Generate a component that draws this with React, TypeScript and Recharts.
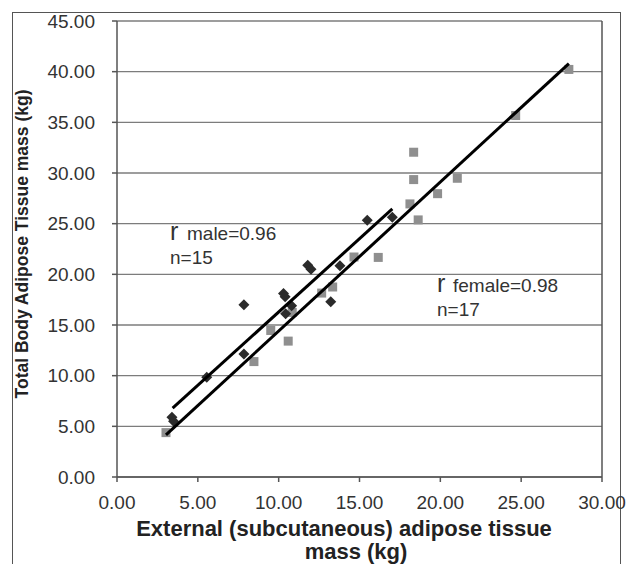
import { ScatterChart, Scatter, XAxis, YAxis, CartesianGrid, ReferenceLine } from 'recharts';

const maleX = [3.4, 3.5, 5.55, 7.85, 7.85, 10.3, 10.4, 10.43, 10.8, 11.8, 12.0, 13.22, 13.79, 15.48, 17.03];
const maleY = [5.9, 5.5, 9.85, 12.15, 17.0, 18.1, 17.8, 16.1, 16.9, 20.9, 20.5, 17.29, 20.85, 25.33, 25.64];

const femaleX = [3.03, 8.47, 9.51, 10.59, 10.84, 12.66, 13.34, 14.66, 16.16, 18.12, 18.35, 18.35, 18.63, 19.83, 21.05, 24.66, 27.95];
const femaleY = [4.38, 11.39, 14.46, 13.41, 16.24, 18.15, 18.75, 21.71, 21.67, 26.95, 29.35, 32.05, 25.37, 27.96, 29.48, 35.67, 40.22];

// fitted lines, end points
const maleFitX = [3.44, 17.03];
const maleFitY = [6.79, 26.45];
const femaleFitX = [3.03, 27.95];
const femaleFitY = [4.15, 40.8];

const xTicks = [0, 5, 10, 15, 20, 25, 30];
const yTicks = [0, 5, 10, 15, 20, 25, 30, 35, 40, 45];

const toPoints = (xs: number[], ys: number[]) => xs.map((x, i) => ({ x, y: ys[i] }));

const maleData = toPoints(maleX, maleY);
const femaleData = toPoints(femaleX, femaleY);
const maleFit = toPoints(maleFitX, maleFitY);
const femaleFit = toPoints(femaleFitX, femaleFitY);

const FONT = '"Liberation Sans", Arial, sans-serif';

const Diamond = (props: any) => {
  const { cx, cy } = props;
  const r = 5.5;
  return <polygon points={`${cx},${cy - r} ${cx + r},${cy} ${cx},${cy + r} ${cx - r},${cy}`} fill="#2b2b2b" />;
};

const Square = (props: any) => {
  const { cx, cy } = props;
  return <rect x={cx - 4.5} y={cy - 4.5} width={9} height={9} fill="#8f8f8f" />;
};

export default function App() {
  return (
    <div style={{ position: 'absolute', left: 0, top: 0, width: 626, height: 564, background: '#fff', overflow: 'hidden' }}>
      <div style={{ position: 'absolute', left: 12, top: 12, width: 607, height: 560, border: '1.5px solid #555' }} />
      <div style={{ position: 'absolute', left: 0, top: 0 }}>
        <ScatterChart width={626} height={564} margin={{ top: 21, right: 24, bottom: 0, left: 0 }}>
          <CartesianGrid vertical={false} stroke="#7c7c7c" strokeWidth={1.3} />
          <XAxis
            type="number"
            dataKey="x"
            domain={[0, 30]}
            ticks={xTicks}
            allowDataOverflow
            height={87}
            tickFormatter={(v: number) => v.toFixed(2)}
            tick={{ fontSize: 19, fill: '#333', fontFamily: FONT }}
            tickSize={5}
            tickMargin={14}
            stroke="#555"
            strokeWidth={1.5}
            label={{
              content: () => (
                <g fontFamily={FONT} fontWeight="bold" fontSize={22} fill="#222">
                  <text x={344} y={536} textAnchor="middle">External (subcutaneous) adipose tissue</text>
                  <text x={356} y={559} textAnchor="middle">mass (kg)</text>
                </g>
              ),
            }}
          />
          <YAxis
            type="number"
            dataKey="y"
            domain={[0, 45]}
            ticks={yTicks}
            allowDataOverflow
            width={117}
            tickFormatter={(v: number) => v.toFixed(2)}
            tick={{ fontSize: 19, fill: '#333', fontFamily: FONT }}
            tickSize={5}
            tickMargin={17}
            stroke="#555"
            strokeWidth={1.5}
            label={{
              content: () => (
                <text
                  x={22}
                  y={244}
                  transform="rotate(-90 22 244)"
                  textAnchor="middle"
                  dominantBaseline="central"
                  fontFamily={FONT}
                  fontWeight="bold"
                  fontSize={17.5}
                  fill="#222"
                >
                  Total Body Adipose Tissue mass (kg)
                </text>
              ),
            }}
          />
          <ReferenceLine x={30} stroke="#555" strokeWidth={1.5} />
          <Scatter data={femaleData} shape={Square} isAnimationActive={false} />
          <Scatter data={maleData} shape={Diamond} isAnimationActive={false} />
          <Scatter
            data={maleFit}
            line={{ stroke: '#000', strokeWidth: 3 }}
            shape={() => <g />}
            isAnimationActive={false}
          />
          <Scatter
            data={femaleFit}
            line={{ stroke: '#000', strokeWidth: 3 }}
            shape={() => <g />}
            isAnimationActive={false}
          />
          <g fontFamily={FONT} fill="#333">
            <text x={170} y={240}>
              <tspan fontSize={25}>r</tspan>
              <tspan x={187} fontSize={19}>male=0.96</tspan>
            </text>
            <text x={170} y={264} fontSize={19}>n=15</text>
            <text x={437} y={292}>
              <tspan fontSize={25}>r</tspan>
              <tspan x={453} fontSize={19}>female=0.98</tspan>
            </text>
            <text x={437} y={316} fontSize={19}>n=17</text>
          </g>
        </ScatterChart>
      </div>
    </div>
  );
}
